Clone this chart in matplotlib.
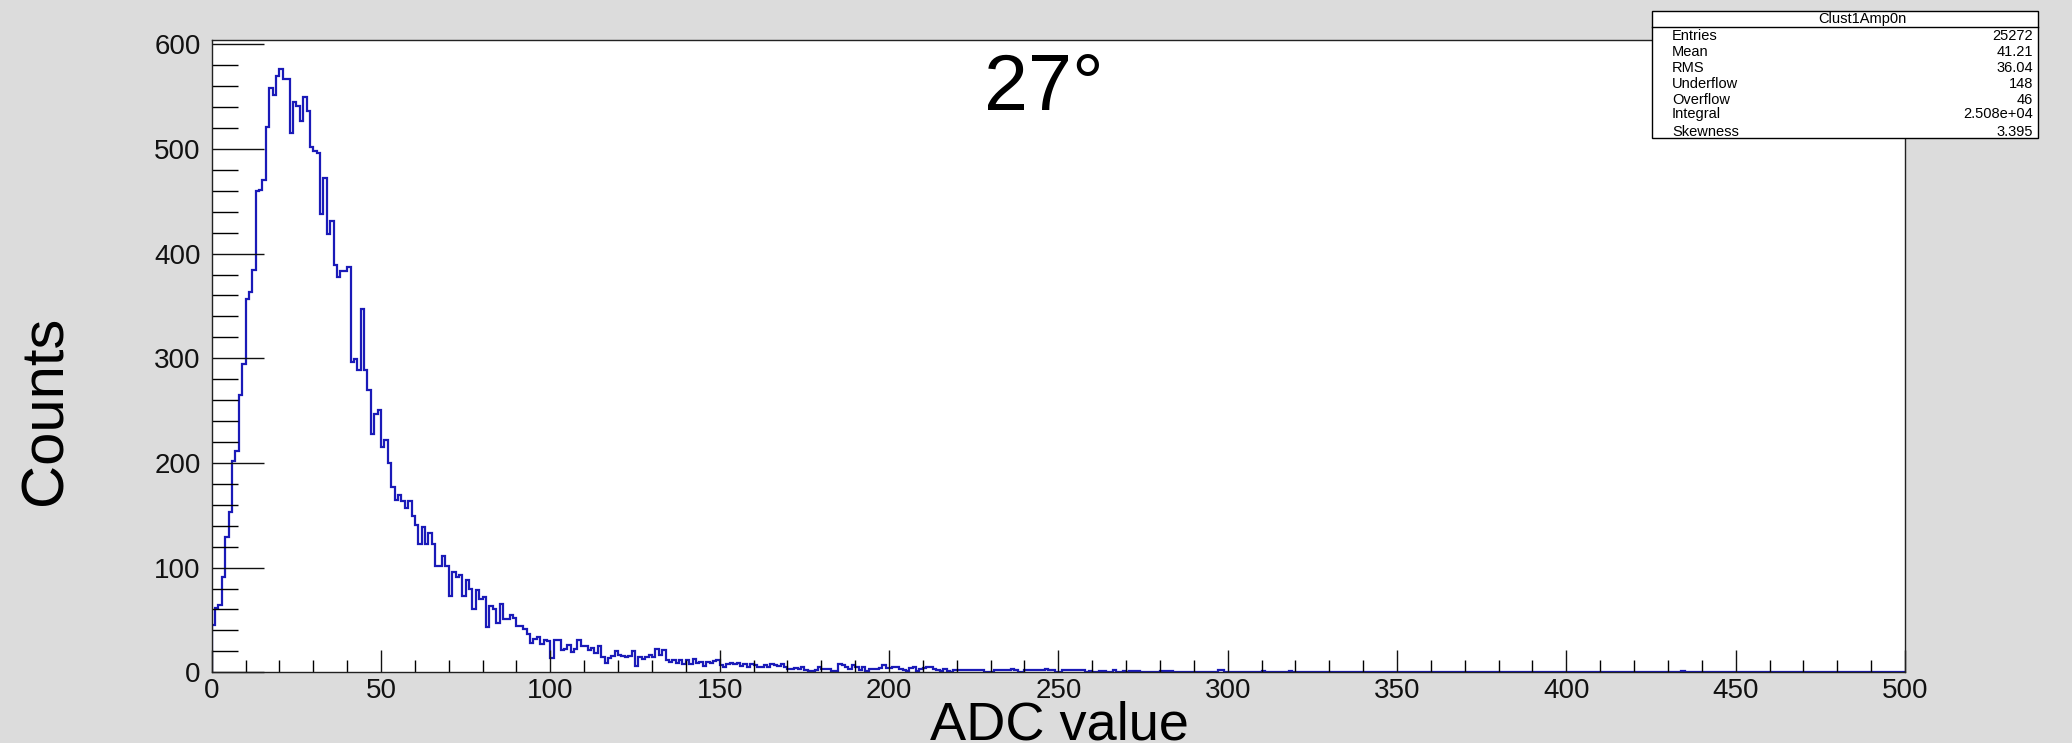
import numpy as np
import matplotlib
matplotlib.use("Agg")
import matplotlib.pyplot as plt
from matplotlib.patches import Rectangle
from matplotlib.lines import Line2D

plt.rcParams['font.family'] = ['Liberation Sans', 'DejaVu Sans']

# Clust1Amp0n, one ADC unit per bin, 0..500
counts_0_99 = [
    45, 61, 64, 91, 129, 153, 202, 211, 265, 295,
    357, 363, 384, 460, 461, 470, 521, 558, 552, 570,
    576, 567, 567, 515, 545, 541, 527, 550, 536, 502,
    498, 496, 438, 472, 419, 431, 389, 378, 383, 383,
    387, 296, 299, 289, 347, 289, 270, 228, 247, 251,
    215, 222, 200, 177, 165, 169, 164, 157, 164, 149,
    141, 123, 139, 123, 133, 123, 102, 102, 111, 102,
    73, 96, 91, 93, 73, 88, 80, 60, 79, 70,
    72, 43, 63, 60, 47, 65, 51, 51, 55, 52,
    44, 44, 41, 37, 28, 32, 34, 27, 31, 30,
]
counts_100_249 = [
    14, 31, 31, 21, 22, 26, 19, 22, 31, 25,
    25, 21, 23, 18, 25, 15, 9, 14, 16, 20,
    17, 16, 15, 16, 20, 6, 15, 13, 15, 17,
    15, 22, 17, 21, 12, 10, 12, 9, 12, 8,
    12, 8, 13, 9, 10, 6, 10, 9, 11, 12,
    7, 5, 8, 9, 8, 9, 6, 8, 5, 8,
    7, 5, 5, 7, 5, 8, 7, 6, 8, 5,
    3, 3, 4, 3, 5, 2, 1, 1, 2, 5,
    3, 3, 3, 1, 1, 8, 7, 5, 3, 7,
    5, 2, 5, 1, 3, 3, 3, 4, 7, 4,
    4, 5, 5, 3, 2, 1, 4, 5, 1, 3,
    4, 5, 5, 3, 2, 1, 3, 1, 0, 2,
    2, 2, 2, 2, 2, 2, 2, 2, 0, 0,
    0, 2, 2, 2, 2, 2, 3, 2, 0, 0,
    2, 2, 2, 2, 2, 2, 3, 2, 2, 0,
]
# bins above 250 are almost empty: only the filled ones
tail_filled = {251: 2, 252: 2, 253: 2, 254: 2, 255: 2, 256: 2, 257: 2,
               259: 1, 262: 1, 263: 1, 266: 2, 269: 1, 271: 1, 272: 1,
               273: 1, 280: 1, 281: 1, 282: 1, 283: 1, 297: 2, 298: 2,
               310: 1, 318: 1, 434: 1}

hist_title = "Clust1Amp0n"
stat_names = ["Entries", "Mean", "RMS", "Underflow", "Overflow", "Integral", "Skewness"]
stat_values = ["25272", "41.21", "36.04", "148", "46", "2.508e+04", "3.395"]

edges = np.arange(0, 501, 1)
counts = np.zeros(500)
counts[:100] = counts_0_99
counts[100:250] = counts_100_249
for b, v in tail_filled.items():
    counts[b] = v

W, H = 2072, 743
bg = '#dcdcdc'
fig = plt.figure(figsize=(W / 100, H / 100), dpi=100, facecolor=bg)

# frame in pixels
x0, x1 = 211.7, 1905.0
y_top, y_bot = 40.0, 672.3
ax = fig.add_axes([x0 / W, (H - y_bot) / H, (x1 - x0) / W, (y_bot - y_top) / H])
ax.set_facecolor('white')

ax.stairs(counts, edges, color='#1a1ab8', linewidth=1.6)

ax.set_xlim(0, 500)
ax.set_ylim(0, 604.1)
ax.set_xticks(np.arange(0, 501, 50))
ax.set_xticks(np.arange(0, 501, 10), minor=True)
ax.set_yticks(np.arange(0, 601, 100))
ax.set_yticks(np.arange(0, 601, 20), minor=True)
ax.tick_params(axis='x', which='major', direction='in', length=16, width=1.0, pad=4, labelsize=20)
ax.tick_params(axis='x', which='minor', direction='in', length=8.3, width=1.0)
ax.tick_params(axis='y', which='major', direction='in', length=37.4, width=1.0, pad=8, labelsize=20)
ax.tick_params(axis='y', which='minor', direction='in', length=18.7, width=1.0)
ax.tick_params(labelcolor='#111111', color='#111111')
for sp in ax.spines.values():
    sp.set_linewidth(1.0)
    sp.set_color('#222222')

# axis titles
fig.text(46 / W, 1 - 410 / H, "Counts", rotation=90, ha='center', va='center', fontsize=43)
fig.text(1059 / W, 1 - 740 / H, "ADC value", ha='center', va='baseline', fontsize=39)
fig.text(1044 / W, 1 - 89 / H, "27°", ha='center', va='center', fontsize=57)

# statistics box
bx0, bx1, by0, by1, bdiv = 1652, 2038, 11, 138, 26.7
fig.patches.append(Rectangle((bx0 / W, 1 - by1 / H), (bx1 - bx0) / W, (by1 - by0) / H,
                             transform=fig.transFigure, facecolor='white',
                             edgecolor='black', linewidth=1.0, zorder=5))
fig.lines.append(Line2D([bx0 / W, bx1 / W], [1 - bdiv / H, 1 - bdiv / H],
                        transform=fig.transFigure, color='black', linewidth=1.0, zorder=6))
fig.text(1862 / W, 1 - 19 / H, hist_title, ha='center', va='center', fontsize=10.5, zorder=7)
row_y = [35.7, 51.7, 68.3, 84.3, 100, 114.3, 132.3]
for name, val, ry in zip(stat_names, stat_values, row_y):
    fig.text(1672 / W, 1 - ry / H, name, ha='left', va='center', fontsize=10.5, zorder=7)
    fig.text(2033 / W, 1 - ry / H, val, ha='right', va='center', fontsize=10.5, zorder=7)

fig.savefig("out.png", dpi=100, facecolor=bg)
